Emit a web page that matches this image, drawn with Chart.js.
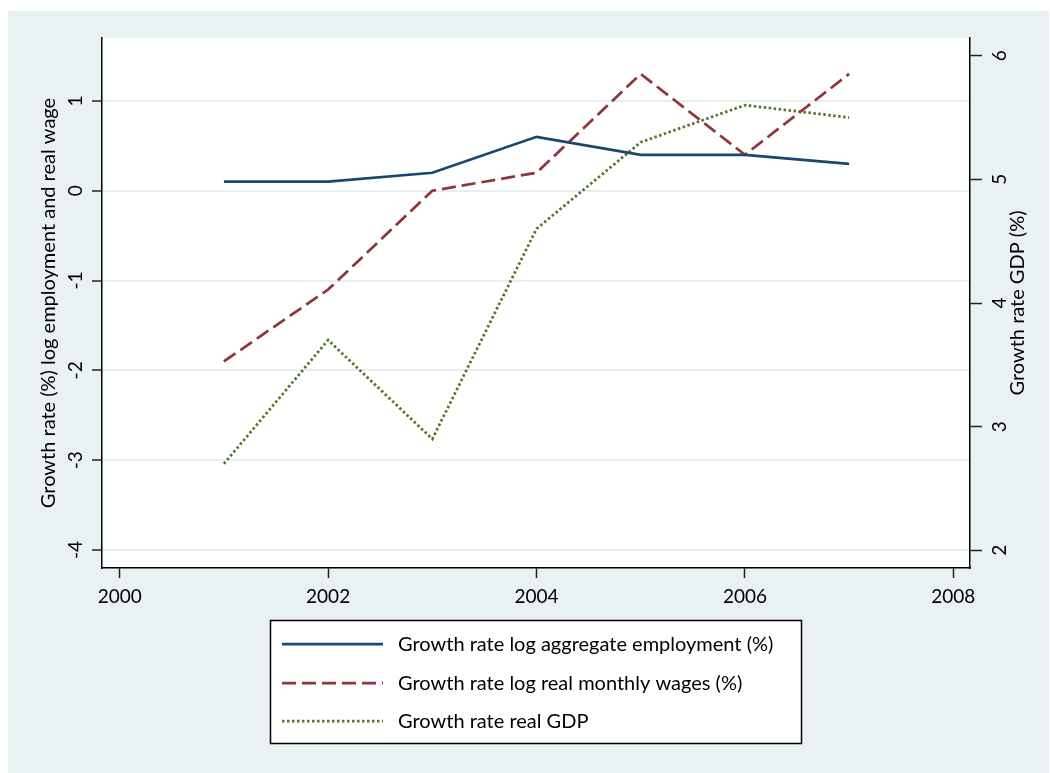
<!DOCTYPE html>
<html>
<head>
<meta charset="utf-8">
<script src="https://cdn.jsdelivr.net/npm/chart.js@4.4.1/dist/chart.umd.min.js"></script>
<style>
html,body{margin:0;padding:0;background:#fff;}
#wrap{position:absolute;left:0;top:0;width:1050px;height:773px;}
</style>
</head>
<body>
<div id="wrap"><canvas id="c" width="1050" height="773"></canvas></div>
<script>
// ---- data ----
const years = [2001, 2002, 2003, 2004, 2005, 2006, 2007];
const employment = [0.1, 0.1, 0.2, 0.6, 0.4, 0.4, 0.3];
const wages = [-1.9, -1.1, 0.0, 0.2, 1.3, 0.4, 1.3];
const gdp = [2.7, 3.7, 2.9, 4.6, 5.3, 5.6, 5.5];
const xTicks = [2000, 2002, 2004, 2006, 2008];
const yLeftTicks = [-4, -3, -2, -1, 0, 1];
const yRightTicks = [2, 3, 4, 5, 6];
const seriesLabels = [
  'Growth rate log aggregate employment (%)',
  'Growth rate log real monthly wages (%)',
  'Growth rate real GDP'
];
const leftTitle = 'Growth rate (%) log employment and real wage';
const rightTitle = 'Growth rate GDP (%)';

// ---- styles ----
const FONT = 'Lato, "Open Sans", "DejaVu Sans", sans-serif';
const FS = 20;      // titles and legend
const TFS = 19;     // tick labels
const BG = '#EAF1F3';
const colors = ['#1A476F', '#90353B', '#55752F'];
const dashes = [[], [14, 6], [2.5, 2.5]];

const toXY = (vals) => vals.map((v, i) => ({ x: years[i], y: v }));

const bgPlugin = {
  id: 'bg',
  beforeDraw(chart) {
    const { ctx, chartArea: a } = chart;
    ctx.save();
    ctx.fillStyle = '#ffffff';
    ctx.fillRect(0, 0, chart.width, chart.height);
    ctx.fillStyle = BG;
    ctx.fillRect(8, 11, 1041, 762);
    ctx.fillStyle = '#ffffff';
    ctx.fillRect(a.left, a.top, a.right - a.left, a.bottom - a.top);
    ctx.restore();
  }
};

const extrasPlugin = {
  id: 'extras',
  afterDraw(chart) {
    const { ctx, chartArea: a } = chart;
    // right axis title (reads bottom-to-top)
    ctx.save();
    ctx.font = FS + 'px ' + FONT;
    ctx.fillStyle = '#000';
    ctx.translate(1018, (a.top + a.bottom) / 2);
    ctx.rotate(-Math.PI / 2);
    ctx.textAlign = 'center';
    ctx.textBaseline = 'middle';
    ctx.fillText(rightTitle, 0, 0);
    ctx.restore();

    // legend box
    const bx = 270, by = 620, bw = 531, bh = 123;
    ctx.save();
    ctx.fillStyle = '#ffffff';
    ctx.fillRect(bx, by, bw, bh);
    ctx.strokeStyle = '#000';
    ctx.lineWidth = 1.5;
    ctx.strokeRect(bx + 0.5, by + 0.5, bw, bh);
    const rows = [644, 683, 721];
    chart.data.datasets.forEach((ds, i) => {
      const y = rows[i];
      ctx.beginPath();
      ctx.setLineDash(ds.borderDash || []);
      ctx.strokeStyle = ds.borderColor;
      ctx.lineWidth = ds.borderWidth;
      ctx.moveTo(282, y);
      ctx.lineTo(383, y);
      ctx.stroke();
      ctx.setLineDash([]);
      ctx.fillStyle = '#000';
      ctx.font = FS + 'px ' + FONT;
      ctx.textAlign = 'left';
      ctx.textBaseline = 'middle';
      ctx.fillText(ds.label, 398, y + 1);
    });
    ctx.restore();
  }
};

const tickFont = { family: FONT, size: TFS };
const titleFont = { family: FONT, size: FS };
const fixTicks = (arr) => (scale) => { scale.ticks = arr.map(v => ({ value: v })); };

new Chart(document.getElementById('c'), {
  type: 'line',
  data: {
    datasets: [
      { label: seriesLabels[0], data: toXY(employment), yAxisID: 'yL',
        borderColor: colors[0], borderWidth: 2.75, borderDash: dashes[0], pointRadius: 0, tension: 0 },
      { label: seriesLabels[1], data: toXY(wages), yAxisID: 'yL',
        borderColor: colors[1], borderWidth: 2.75, borderDash: dashes[1], pointRadius: 0, tension: 0 },
      { label: seriesLabels[2], data: toXY(gdp), yAxisID: 'yR',
        borderColor: colors[2], borderWidth: 2.75, borderDash: dashes[2], pointRadius: 0, tension: 0 }
    ]
  },
  options: {
    responsive: false,
    animation: false,
    devicePixelRatio: 1,
    layout: { padding: { left: 8, top: 38, right: 0, bottom: 145 } },
    plugins: { legend: { display: false }, tooltip: { enabled: false } },
    scales: {
      x: {
        type: 'linear', position: 'bottom', min: 1999.83, max: 2008.16,
        afterBuildTicks: fixTicks(xTicks),
        afterFit: (s) => { s.height = 60; },
        ticks: { font: tickFont, color: '#000', padding: 7, maxRotation: 0, callback: (v) => String(v) },
        grid: { drawOnChartArea: false, tickLength: 10, tickColor: '#222', tickWidth: 1.5 },
        border: { color: '#000', width: 1.5 }
      },
      yL: {
        type: 'linear', position: 'left', min: -4.2, max: 1.7,
        afterBuildTicks: fixTicks(yLeftTicks),
        afterFit: (s) => { s.width = 94; },
        ticks: { font: tickFont, color: '#000', padding: 7, minRotation: 90, maxRotation: 90, crossAlign: 'center', callback: (v) => String(v) },
        grid: { color: '#E6EEF1', lineWidth: 2, tickLength: 10, tickColor: '#222', tickWidth: 1.5 },
        border: { color: '#000', width: 1.5 },
        title: { display: true, text: leftTitle, font: titleFont, color: '#000', padding: { top: 29, bottom: 0 } }
      },
      yR: {
        type: 'linear', position: 'right', min: 1.857, max: 6.143,
        afterBuildTicks: fixTicks(yRightTicks),
        afterFit: (s) => { s.width = 80; },
        ticks: { font: tickFont, color: '#000', padding: 12, minRotation: 90, maxRotation: 90, crossAlign: 'center', callback: (v) => String(v) },
        grid: { drawOnChartArea: false, tickLength: 12, tickColor: '#222', tickWidth: 1.5 },
        border: { color: '#000', width: 1.5 }
      }
    }
  },
  plugins: [bgPlugin, extrasPlugin]
});
</script>
</body>
</html>
